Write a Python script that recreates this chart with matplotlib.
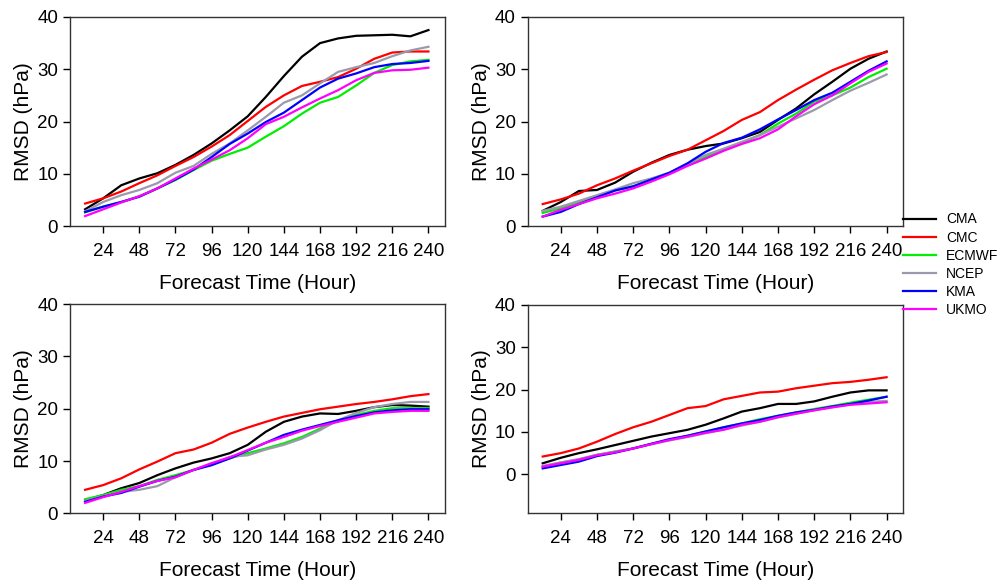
import matplotlib
matplotlib.use("Agg")
import matplotlib.pyplot as plt

plt.rcParams['font.family'] = ['Liberation Sans', 'DejaVu Sans']

hours = [12, 24, 36, 48, 60, 72, 84, 96, 108, 120, 132, 144, 156, 168, 180, 192, 204, 216, 228, 240]
xticks = [24, 48, 72, 96, 120, 144, 168, 192, 216, 240]
yticks = [0, 10, 20, 30, 40]

models = ['CMA', 'CMC', 'ECMWF', 'NCEP', 'KMA', 'UKMO']
colors = ['#000000', '#ff0000', '#00ee00', '#9a9aac', '#0000ff', '#ff00ff']

# panel (a) top left
a_cma = [3.2, 5.3, 7.8, 9.1, 10.1, 11.7, 13.6, 15.8, 18.3, 21.0, 24.7, 28.7, 32.4, 35.0, 35.9, 36.4, 36.5, 36.6, 36.3, 37.5]
a_cmc = [4.3, 5.3, 6.6, 8.2, 9.7, 11.5, 13.2, 15.2, 17.4, 20.1, 22.8, 25.0, 26.8, 27.6, 28.5, 30.1, 32.0, 33.2, 33.4, 33.4]
a_ecmwf = [2.6, 3.7, 4.6, 5.7, 7.2, 8.8, 10.7, 12.5, 13.8, 15.0, 17.1, 19.1, 21.5, 23.6, 24.7, 26.9, 29.3, 30.8, 31.5, 31.8]
a_ncep = [2.8, 4.6, 5.9, 6.9, 8.2, 10.2, 11.5, 13.8, 15.8, 18.3, 20.9, 23.6, 25.0, 27.3, 29.5, 30.4, 31.2, 32.5, 33.6, 34.3]
a_kma = [2.7, 3.7, 4.6, 5.6, 7.2, 8.9, 10.8, 13.2, 15.7, 17.7, 19.9, 21.7, 24.1, 26.5, 28.2, 29.2, 30.4, 31.0, 31.2, 31.6]
a_ukmo = [1.9, 3.2, 4.5, 5.7, 7.2, 9.1, 11.0, 12.7, 14.5, 16.8, 19.5, 20.9, 22.7, 24.4, 26.0, 27.9, 29.3, 29.8, 29.9, 30.3]

# panel (b) top right
b_cma = [2.9, 4.6, 6.7, 6.9, 8.3, 10.4, 12.1, 13.6, 14.6, 15.3, 15.8, 16.8, 18.0, 20.3, 22.5, 25.2, 27.6, 30.1, 32.0, 33.4]
b_cmc = [4.2, 5.1, 6.2, 7.8, 9.1, 10.6, 12.0, 13.4, 14.6, 16.4, 18.2, 20.3, 21.8, 24.1, 26.1, 28.0, 29.8, 31.2, 32.5, 33.3]
b_ecmwf = [2.5, 3.4, 4.6, 5.7, 6.8, 7.6, 8.8, 10.1, 11.7, 13.2, 14.6, 15.9, 17.4, 19.6, 21.5, 23.8, 25.0, 26.5, 28.5, 30.1]
b_ncep = [2.9, 3.7, 4.8, 5.9, 7.0, 8.2, 9.1, 10.2, 11.9, 13.6, 14.8, 16.1, 17.4, 19.0, 20.6, 22.2, 24.1, 25.9, 27.4, 29.0]
b_kma = [1.8, 2.7, 4.2, 5.5, 6.8, 7.6, 8.9, 10.2, 12.0, 14.2, 15.9, 16.9, 18.5, 20.4, 22.2, 24.1, 25.5, 27.6, 29.7, 31.5]
b_ukmo = [1.8, 3.1, 4.2, 5.3, 6.2, 7.2, 8.5, 9.9, 11.5, 12.9, 14.4, 15.7, 16.8, 18.5, 21.0, 23.3, 25.0, 27.3, 29.5, 31.1]

# panel (c) bottom left
c_cma = [2.5, 3.5, 4.8, 5.8, 7.3, 8.6, 9.7, 10.5, 11.5, 13.1, 15.6, 17.5, 18.5, 19.1, 19.0, 19.6, 20.3, 20.7, 20.6, 20.4]
c_cmc = [4.5, 5.4, 6.7, 8.4, 9.9, 11.5, 12.2, 13.5, 15.2, 16.4, 17.5, 18.5, 19.2, 19.9, 20.4, 20.9, 21.3, 21.8, 22.4, 22.8]
c_ecmwf = [2.7, 3.5, 4.5, 5.2, 6.4, 7.3, 8.3, 9.4, 10.5, 11.5, 12.4, 13.4, 14.6, 16.2, 17.7, 18.8, 19.6, 20.1, 20.1, 20.1]
c_ncep = [2.4, 3.3, 4.1, 4.5, 5.2, 6.9, 8.3, 9.4, 10.8, 11.1, 12.2, 13.1, 14.3, 15.9, 17.8, 19.2, 20.3, 20.9, 21.3, 21.3]
c_kma = [2.2, 3.2, 3.9, 5.1, 6.2, 7.0, 8.3, 9.2, 10.5, 12.0, 13.5, 15.0, 16.0, 16.9, 17.8, 18.6, 19.3, 19.7, 19.9, 19.9]
c_ukmo = [2.0, 3.1, 4.1, 5.2, 6.2, 6.9, 8.3, 9.6, 10.7, 12.1, 13.5, 14.6, 15.8, 16.7, 17.5, 18.3, 19.1, 19.4, 19.6, 19.6]

# panel (d) bottom right
d_cma = [2.6, 3.9, 5.0, 5.9, 6.9, 7.9, 8.9, 9.7, 10.5, 11.7, 13.2, 14.8, 15.6, 16.6, 16.6, 17.2, 18.3, 19.3, 19.8, 19.8]
d_cmc = [4.2, 5.0, 6.1, 7.7, 9.5, 11.1, 12.4, 14.0, 15.6, 16.1, 17.7, 18.5, 19.3, 19.5, 20.3, 20.9, 21.5, 21.8, 22.3, 22.9]
d_ecmwf = [1.8, 2.8, 3.5, 4.6, 5.4, 6.1, 7.2, 8.1, 9.1, 10.1, 11.1, 12.0, 13.0, 13.8, 14.6, 15.4, 16.1, 16.9, 17.6, 18.3]
d_ncep = [2.0, 2.8, 3.6, 4.6, 5.3, 6.1, 7.1, 8.0, 8.8, 9.7, 10.6, 11.5, 12.4, 13.4, 14.3, 15.1, 15.8, 16.5, 17.1, 17.3]
d_kma = [1.4, 2.2, 3.0, 4.3, 5.1, 6.1, 7.2, 8.3, 9.1, 10.1, 11.1, 12.0, 12.8, 13.8, 14.6, 15.2, 16.0, 16.6, 17.4, 18.3]
d_ukmo = [1.8, 2.6, 3.4, 4.5, 5.2, 6.1, 7.1, 8.1, 8.9, 9.8, 10.5, 11.7, 12.4, 13.5, 14.3, 15.1, 15.8, 16.4, 16.7, 17.0]

panels = [
    ([a_cma, a_cmc, a_ecmwf, a_ncep, a_kma, a_ukmo], [0.0697, 0.6143, 0.3731, 0.3567], (0, 40)),
    ([b_cma, b_cmc, b_ecmwf, b_ncep, b_kma, b_ukmo], [0.525, 0.6143, 0.3737, 0.3567], (0, 40)),
    ([c_cma, c_cmc, c_ecmwf, c_ncep, c_kma, c_ukmo], [0.0697, 0.124, 0.3731, 0.357], (0, 40)),
    ([d_cma, d_cmc, d_ecmwf, d_ncep, d_kma, d_ukmo], [0.525, 0.124, 0.3737, 0.356], (-9.2, 40)),
]

fig = plt.figure(figsize=(10.05, 5.86), dpi=100)

handles = []
for series, rect, ylim in panels:
    ax = fig.add_axes(rect)
    for vals, name, col in zip(series, models, colors):
        ln, = ax.plot(hours, vals, color=col, lw=1.6, label=name)
        if len(handles) < len(models):
            handles.append(ln)
    ax.set_xlim(2, 251)
    ax.set_ylim(*ylim)
    ax.set_xticks(xticks)
    ax.set_yticks(yticks)
    ax.tick_params(axis='both', direction='out', length=5, width=1, labelsize=13.5,
                   top=False, right=False)
    ax.tick_params(axis='x', pad=7)
    for sp in ax.spines.values():
        sp.set_color('#333333')
        sp.set_linewidth(1)
    ax.set_xlabel('Forecast Time (Hour)', fontsize=15, labelpad=10)
    ax.set_ylabel('RMSD (hPa)', fontsize=15, labelpad=3)

fig.legend(handles, models, loc='center left', bbox_to_anchor=(0.893, 0.548),
           frameon=False, fontsize=10, handlelength=2.4, handletextpad=0.7,
           labelspacing=0.3, borderaxespad=0)

fig.savefig('out.png', dpi=100)
